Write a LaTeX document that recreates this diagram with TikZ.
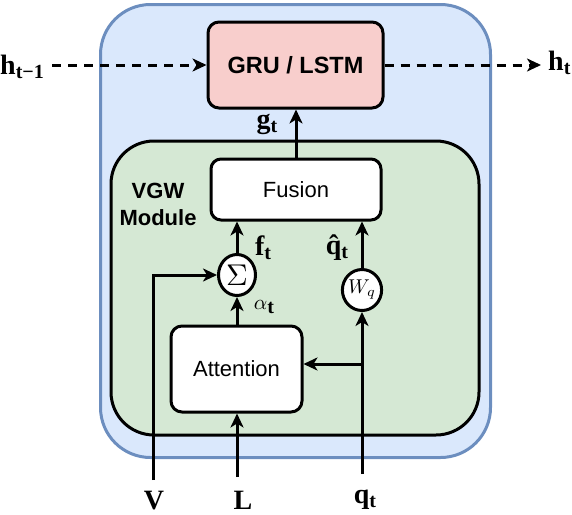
\RequirePackage{fix-cm}
\documentclass[tikz,border=0pt]{standalone}
\usepackage{graphicx}
\usepackage{fontspec}
\setmainfont{Liberation Serif}
\setsansfont{Liberation Sans}
\usetikzlibrary{arrows.meta,shapes.geometric}
\definecolor{blueF}{HTML}{DAE8FC}
\definecolor{blueS}{HTML}{6C8EBF}
\definecolor{redF}{HTML}{F8CECC}
\definecolor{greenF}{HTML}{D5E8D4}
\newcommand\lsub[1]{\raisebox{-4pt}{\fontsize{20}{20}\selectfont #1}}
\tikzset{
  container/.style={draw=blueS, line width=3pt, fill=blueF, rounded corners=50pt},
  module/.style={draw=black, line width=3pt, fill=greenF, rounded corners=43pt},
  block/.style={draw=black, line width=3pt, rounded corners=11pt, font=\sffamily\fontsize{22}{26}\selectfont},
  opnode/.style={draw=black, fill=white, line width=3pt, ellipse, minimum width=37pt, minimum height=41pt, inner sep=0pt},
  arr/.style={draw=black, line width=3pt, -{Stealth[length=14pt,width=13pt,inset=4pt]}},
  darr/.style={arr, dash pattern=on 9pt off 7pt},
  lab/.style={font=\fontsize{28}{30}\selectfont\bfseries, inner sep=0pt, anchor=base},
}
\begin{document}
\begin{tikzpicture}[x=1pt,y=-1pt]
\useasboundingbox (0,0) rectangle (572,514);
% containers
\node[container, minimum width=390pt, minimum height=453pt] (outer) at (295.5,231) {};
\node[module, minimum width=368pt, minimum height=294pt] (vgw) at (295,288) {};
\node[font=\sffamily\bfseries\fontsize{22}{27}\selectfont, align=center, inner sep=0pt] (vgwlab) at (158,204) {VGW\\Module};
% blocks
\node[block, fill=redF, font=\sffamily\bfseries\fontsize{23.5}{26}\selectfont, minimum width=175pt, minimum height=86pt] (gru) at (295.5,65) {GRU / LSTM};
\node[block, fill=white, minimum width=170pt, minimum height=61pt, rounded corners=10pt] (fusion) at (296,189.5) {Fusion};
\node[block, fill=white, minimum width=131pt, minimum height=86pt] (att) at (236.5,369) {Attention};
\node[opnode] (sigma) at (237,275) {\scalebox{3}{$\Sigma$}};
\node[opnode] (wq) at (362,290) {\scalebox{2}{$W_q$}};
% free ends
\coordinate (hs) at (52,65);
\coordinate (he) at (541,65);
\coordinate (vb) at (153,480);
\coordinate (lb) at (237,477);
\coordinate (qb) at (362,474);
\coordinate (qm) at (362,364);
% connectors
\draw[darr] (hs) -- (gru.west);
\draw[darr] (gru.east) -- (he);
\draw[arr] (fusion.north) -- (fusion.north |- gru.south);
\draw[arr] (sigma.north) -- (sigma.north |- fusion.south);
\draw[arr] (wq.north) -- (wq.north |- fusion.south);
\draw[arr] (sigma.south |- att.north) -- (sigma.south);
\draw[arr] (vb) |- (sigma.west);
\draw[arr] (lb) -- (lb |- att.south);
\draw[arr] (qb) -- (wq.south);
\draw[arr] (qm) -- (qm -| att.east);
% labels
\node[lab, anchor=base west] (hprev) at (0,74) {h\lsub{t−1}};
\node[lab, anchor=base west] (hnext) at (548,70) {h\lsub{t}};
\node[lab] (glab) at (267,128) {g\lsub{t}};
\node[lab] (flab) at (263,255) {f\lsub{t}};
\node[lab] (qhlab) at (337,254) {\^{q}\lsub{t}};
\node[inner sep=0pt, anchor=base] (alab) at (264,309) {\scalebox{2.1}{$\alpha$}\lsub{\bfseries t}};
\node[lab] (vlab) at (154,509) {V};
\node[lab] (llab) at (243,509) {L};
\node[lab] (qlab) at (365,503) {q\lsub{t}};
\end{tikzpicture}
\end{document}
